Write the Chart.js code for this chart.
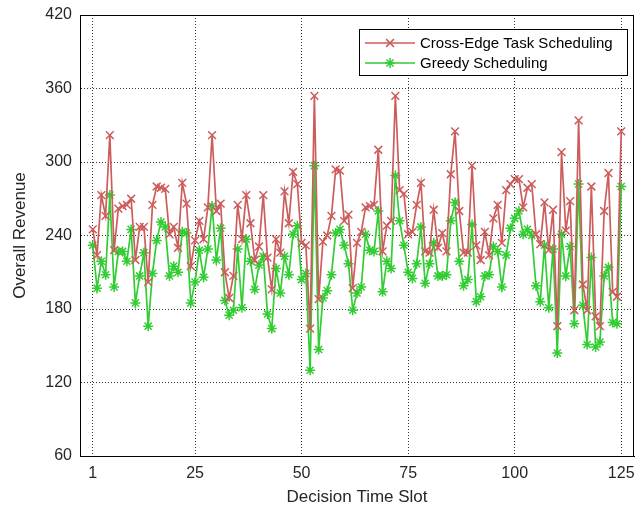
<!DOCTYPE html>
<html>
<head>
<meta charset="utf-8">
<script src="https://cdn.jsdelivr.net/npm/chart.js@4.4.1/dist/chart.umd.min.js"></script>
<style>
html, body { margin: 0; padding: 0; background: #fff; }
#wrap { width: 641px; height: 510px; }
</style>
</head>
<body>
<div id="wrap"><canvas id="myChart" width="641" height="510"></canvas></div>
<script>
// values, one per decision time slot (1..125)
var crossEdge = [
    245, 224, 273, 256, 322, 228, 262, 264, 265, 270, 220, 247, 247, 202, 265, 280, 279, 278, 241, 247, 230, 283, 266, 215, 236,
    252, 237, 263, 322, 260, 266, 210, 189, 207, 265, 237, 273, 250, 220, 231, 273, 222, 196, 237, 226, 276, 250, 292, 282, 234,
    232, 164, 354, 188, 235, 240, 256, 294, 293, 252, 257, 197, 234, 243, 263, 264, 265, 310, 227, 248, 252, 354, 277, 274, 241,
    243, 265, 283, 227, 226, 261, 230, 242, 227, 290, 325, 260, 226, 226, 297, 232, 220, 243, 224, 254, 265, 234, 277, 282, 286,
    286, 263, 279, 282, 241, 233, 267, 228, 261, 166, 308, 244, 268, 179, 334, 200, 179, 280, 174, 166, 260, 291, 194, 190, 325
];
var greedy = [
    232, 197, 219, 208, 273, 198, 227, 227, 219, 245, 185, 207, 226, 166, 209, 236, 251, 247, 207, 215, 210, 243, 242, 185, 202,
    228, 206, 229, 264, 220, 246, 187, 175, 179, 229, 181, 237, 219, 196, 216, 223, 176, 164, 213, 193, 223, 208, 241, 248, 204,
    209, 130, 297, 147, 189, 195, 208, 242, 245, 232, 217, 179, 193, 198, 241, 228, 227, 260, 194, 219, 213, 289, 252, 232, 210,
    205, 217, 247, 201, 217, 234, 207, 207, 208, 252, 267, 219, 199, 204, 249, 186, 190, 207, 208, 231, 227, 198, 224, 246, 254,
    260, 241, 245, 240, 199, 186, 232, 181, 229, 144, 241, 207, 231, 168, 282, 183, 151, 222, 149, 153, 207, 214, 169, 168, 280
];
var xTicks = [1, 25, 50, 75, 100, 125];
var yTicks = [60, 120, 180, 240, 300, 360, 420];
var seriesNames = ['Cross-Edge Task Scheduling', 'Greedy Scheduling'];

var red = 'rgb(205, 92, 92)';
var green = 'rgb(50, 205, 50)';
var textColor = '#262626';
var fontFamily = '"Liberation Sans", Arial, sans-serif';

function toPoints(values) {
    var pts = [];
    for (var i = 0; i < values.length; i++) {
        pts.push({ x: i + 1, y: values[i] });
    }
    return pts;
}

function marker(ctx, style, x, y, r) {
    ctx.beginPath();
    var d = r * Math.SQRT1_2;
    ctx.moveTo(x - d, y - d); ctx.lineTo(x + d, y + d);
    ctx.moveTo(x - d, y + d); ctx.lineTo(x + d, y - d);
    if (style === 'star') {
        ctx.moveTo(x - r, y); ctx.lineTo(x + r, y);
        ctx.moveTo(x, y - r); ctx.lineTo(x, y + r);
    }
    ctx.stroke();
}

// box round the axes plus the boxed legend in the upper right corner
var frameAndLegend = {
    id: 'frameAndLegend',
    afterDraw: function (chart) {
        var ctx = chart.ctx;
        var a = chart.chartArea;
        ctx.save();
        ctx.strokeStyle = '#000';
        ctx.lineWidth = 1;
        ctx.strokeRect(Math.round(a.left) + 0.5, Math.round(a.top) + 0.5,
            Math.round(a.right - a.left) - 1, Math.round(a.bottom - a.top));

        var bx = 359, by = 29, bw = 268, bh = 46;
        ctx.fillStyle = '#fff';
        ctx.fillRect(bx, by, bw, bh);
        ctx.strokeRect(bx + 0.5, by + 0.5, bw, bh);

        var rows = [
            { color: red, style: 'crossRot', r: 5.5, y: 43 },
            { color: green, style: 'star', r: 5, y: 63 }
        ];
        ctx.font = '15px ' + fontFamily;
        ctx.textBaseline = 'middle';
        for (var i = 0; i < rows.length; i++) {
            ctx.strokeStyle = rows[i].color;
            ctx.lineWidth = 1.7;
            ctx.beginPath();
            ctx.moveTo(365, rows[i].y);
            ctx.lineTo(415, rows[i].y);
            ctx.stroke();
            ctx.lineWidth = 1.5;
            marker(ctx, rows[i].style, 390, rows[i].y, rows[i].r);
            ctx.fillStyle = '#000';
            ctx.fillText(seriesNames[i], 420, rows[i].y + 1);
        }
        ctx.restore();
    }
};

var ctx = document.getElementById('myChart').getContext('2d');
var myChart = new Chart(ctx, {
    type: 'line',
    data: {
        datasets: [{
            label: seriesNames[0],
            data: toPoints(crossEdge),
            borderColor: red,
            backgroundColor: red,
            borderWidth: 1.7,
            pointStyle: 'crossRot',
            pointRadius: 5.5,
            pointBorderWidth: 1.5,
            pointBorderColor: red,
            tension: 0
        }, {
            label: seriesNames[1],
            data: toPoints(greedy),
            borderColor: green,
            backgroundColor: green,
            borderWidth: 1.7,
            pointStyle: 'star',
            pointRadius: 5,
            pointBorderWidth: 1.5,
            pointBorderColor: green,
            tension: 0
        }]
    },
    options: {
        responsive: false,
        animation: false,
        devicePixelRatio: 1,
        layout: { padding: { top: 15, right: 1, left: 0, bottom: 0 } },
        plugins: {
            legend: { display: false },
            tooltip: { enabled: false }
        },
        scales: {
            x: {
                type: 'linear',
                min: -2,
                max: 128,
                afterBuildTicks: function (scale) {
                    scale.ticks = xTicks.map(function (v) { return { value: v }; });
                },
                afterFit: function (scale) {
                    scale.height = 54;
                    scale.paddingLeft = 0;
                    scale.paddingRight = 0;
                },
                grid: { color: 'rgba(0,0,0,0.8)', lineWidth: 1, drawTicks: false },
                border: { display: true, color: '#000', width: 1, dash: [1, 2] },
                ticks: {
                    autoSkip: false, maxRotation: 0, padding: 8,
                    color: textColor,
                    font: { family: fontFamily, size: 16 }
                },
                title: {
                    display: true,
                    text: 'Decision Time Slot',
                    color: textColor,
                    padding: { top: 0, bottom: 2 },
                    font: { family: fontFamily, size: 17 }
                }
            },
            y: {
                min: 60,
                max: 420,
                afterBuildTicks: function (scale) {
                    scale.ticks = yTicks.map(function (v) { return { value: v }; });
                },
                afterFit: function (scale) {
                    scale.width = 80;
                    scale.paddingTop = 0;
                    scale.paddingBottom = 0;
                },
                grid: { color: 'rgba(0,0,0,0.8)', lineWidth: 1, drawTicks: false },
                border: { display: true, color: '#000', width: 1, dash: [1, 2] },
                ticks: {
                    padding: 8,
                    color: textColor,
                    font: { family: fontFamily, size: 16 }
                },
                title: {
                    display: true,
                    text: 'Overall Revenue',
                    color: textColor,
                    padding: { top: 10, bottom: 0 },
                    font: { family: fontFamily, size: 17 }
                }
            }
        }
    },
    plugins: [frameAndLegend]
});
</script>
</body>
</html>
